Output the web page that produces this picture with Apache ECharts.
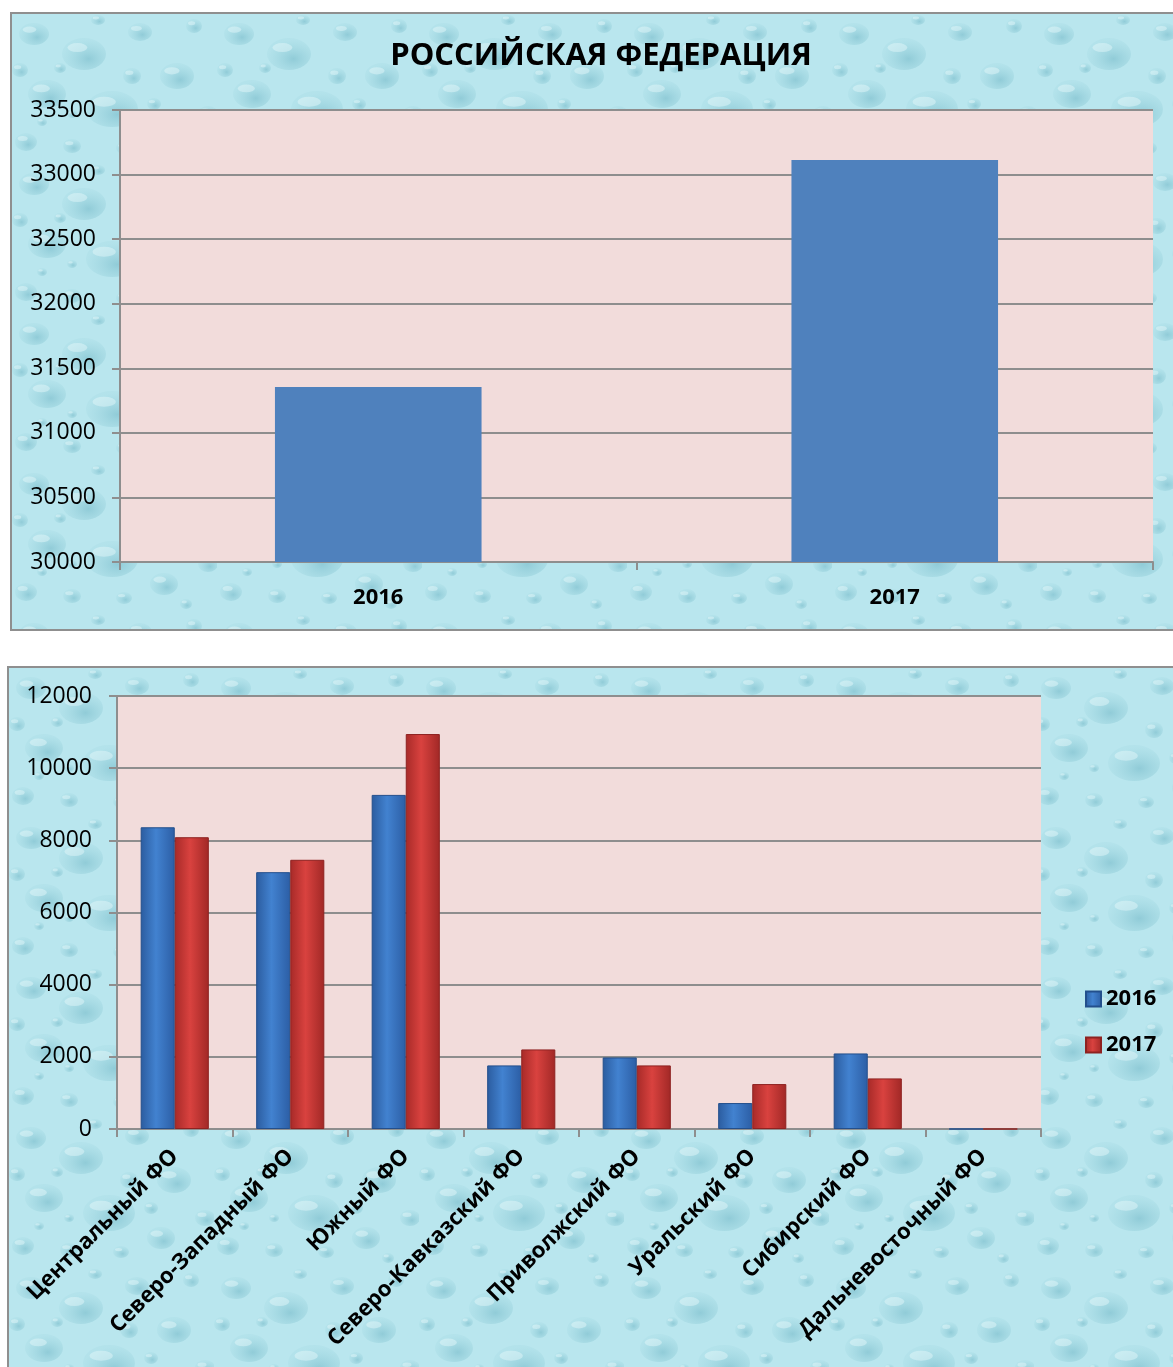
<!DOCTYPE html>
<html>
<head>
<meta charset="utf-8">
<script src="https://cdn.jsdelivr.net/npm/echarts@6/dist/echarts.min.js"></script>
<style>
  html, body { margin: 0; padding: 0; background: #ffffff; }
  body { width: 1173px; height: 1367px; position: relative; overflow: hidden; }
  .panel { position: absolute; border: 2px solid #8f8f8f; box-sizing: border-box; }
  #p1 { left: 10px; top: 12px; width: 1180px; height: 619px; }
  #p2 { left: 7px; top: 666px; width: 1190px; height: 720px; }
  #chart { position: absolute; left: 0; top: 0; width: 1173px; height: 1367px; }
</style>
</head>
<body>
<div class="panel" id="p1"></div>
<div class="panel" id="p2"></div>
<div id="chart"></div>
<script>
// Russian Federation totals
const yearCats = ['2016', '2017'];
const rfValues = [31355, 33113];

// Federal districts
const districts = [
  'Центральный ФО', 'Северо-Западный ФО', 'Южный ФО', 'Северо-Кавказский ФО',
  'Приволжский ФО', 'Уральский ФО', 'Сибирский ФО', 'Дальневосточный ФО'
];
const values2016 = [8362, 7118, 9259, 1762, 1983, 719, 2094, 0];
const values2017 = [8086, 7461, 10946, 2205, 1762, 1245, 1402, 0];

// soft water-drop texture for the panel backgrounds
function dropTile() {
  const drops = [
    [22, 20, 15, 11], [72, 40, 22, 16], [128, 18, 12, 9], [165, 62, 17, 13],
    [35, 80, 19, 14], [100, 95, 26, 18], [152, 120, 14, 11], [14, 128, 11, 9],
    [60, 132, 9, 7], [120, 62, 9, 8], [182, 12, 8, 7], [86, 6, 7, 5],
    [48, 54, 6, 5], [142, 90, 7, 6], [8, 56, 8, 7], [112, 134, 8, 6],
    [196, 100, 10, 8], [30, 108, 5, 4], [174, 140, 6, 5], [60, 100, 5, 4]
  ];
  let s = "<svg xmlns='http://www.w3.org/2000/svg' width='205' height='150'>" +
          "<defs><radialGradient id='d' cx='0.6' cy='0.65' r='0.6'>" +
          "<stop offset='0' stop-color='#7fc0ce' stop-opacity='0.7'/>" +
          "<stop offset='1' stop-color='#9bd4de' stop-opacity='0.2'/></radialGradient></defs>" +
          "<rect width='205' height='150' fill='#b9e6ee'/>";
  drops.forEach(([x, y, rx, ry]) => {
    s += `<ellipse cx='${x}' cy='${y}' rx='${rx}' ry='${ry}' fill='url(#d)'/>`;
    s += `<ellipse cx='${x - rx * 0.3}' cy='${y - ry * 0.4}' rx='${rx * 0.45}' ry='${ry * 0.28}' fill='#e6f8fb' opacity='0.45'/>`;
  });
  s += '</svg>';
  return 'url("data:image/svg+xml,' + encodeURIComponent(s) + '")';
}
const tile = dropTile();
document.getElementById('p1').style.background = tile;
document.getElementById('p2').style.background = tile;

const FONT = '"Open Sans", "Liberation Sans", sans-serif';
const gridLine = { lineStyle: { color: '#8e8e8e', width: 2 } };
const axisGray = { lineStyle: { color: '#8e8e8e', width: 2 } };
const plain = v => String(v);

function barGrad(edge, mid, edge2) {
  return new echarts.graphic.LinearGradient(0, 0, 1, 0, [
    { offset: 0, color: edge },
    { offset: 0.45, color: mid },
    { offset: 1, color: edge2 }
  ]);
}
const blueGrad = barGrad('#2b5c9f', '#4282d0', '#2c5ea5');
const redGrad = barGrad('#a72a28', '#d9423f', '#a12826');

const chart = echarts.init(document.getElementById('chart'), null, { renderer: 'canvas' });
chart.setOption({
  backgroundColor: 'transparent',
  animation: false,
  textStyle: { fontFamily: FONT },
  title: {
    text: 'РОССИЙСКАЯ ФЕДЕРАЦИЯ',
    left: 596, top: 36, textAlign: 'center',
    textStyle: { fontFamily: FONT, fontSize: 31, fontWeight: 'bold', color: '#000' }
  },
  legend: {
    data: ['2016', '2017'],
    orient: 'vertical',
    left: 1080, top: 983,
    icon: 'rect',
    itemWidth: 15, itemHeight: 15, itemGap: 24,
    textStyle: { fontFamily: FONT, fontSize: 22, fontWeight: 'bold', color: '#000' }
  },
  grid: [
    { left: 120, top: 110, width: 1033, height: 452, show: true, backgroundColor: '#f2dcdb', borderWidth: 0 },
    { left: 117, top: 696, width: 924, height: 433, show: true, backgroundColor: '#f2dcdb', borderWidth: 0 }
  ],
  xAxis: [
    {
      gridIndex: 0, type: 'category', data: yearCats,
      axisLine: axisGray, axisTick: { show: true, length: 8, ...axisGray },
      axisLabel: { fontFamily: FONT, fontSize: 22, fontWeight: 'bold', color: '#000', margin: 25 }
    },
    {
      gridIndex: 1, type: 'category', data: districts,
      axisLine: axisGray, axisTick: { show: true, length: 8, ...axisGray },
      axisLabel: { fontFamily: FONT, fontSize: 22, fontWeight: 'bold', color: '#000', rotate: 45, margin: 24, interval: 0 }
    }
  ],
  yAxis: [
    {
      gridIndex: 0, type: 'value', min: 30000, max: 33500, interval: 500,
      axisLine: { show: true, ...axisGray }, axisTick: { show: true, length: 8, ...axisGray },
      splitLine: gridLine,
      axisLabel: { fontFamily: FONT, fontSize: 23, color: '#000', margin: 24, formatter: plain }
    },
    {
      gridIndex: 1, type: 'value', min: 0, max: 12000, interval: 2000,
      axisLine: { show: true, ...axisGray }, axisTick: { show: true, length: 8, ...axisGray },
      splitLine: gridLine,
      axisLabel: { fontFamily: FONT, fontSize: 23, color: '#000', margin: 25, formatter: plain }
    }
  ],
  series: [
    {
      type: 'bar', xAxisIndex: 0, yAxisIndex: 0, data: rfValues, barWidth: '40%',
      itemStyle: { color: '#4f81bd' }
    },
    {
      name: '2016', type: 'bar', xAxisIndex: 1, yAxisIndex: 1, data: values2016,
      barGap: '0%', barCategoryGap: '41%',
      itemStyle: { color: blueGrad, borderColor: '#234f8c', borderWidth: 1 }
    },
    {
      name: '2017', type: 'bar', xAxisIndex: 1, yAxisIndex: 1, data: values2017,
      barGap: '0%', barCategoryGap: '41%',
      itemStyle: { color: redGrad, borderColor: '#8e2221', borderWidth: 1 }
    }
  ]
});
</script>
</body>
</html>
